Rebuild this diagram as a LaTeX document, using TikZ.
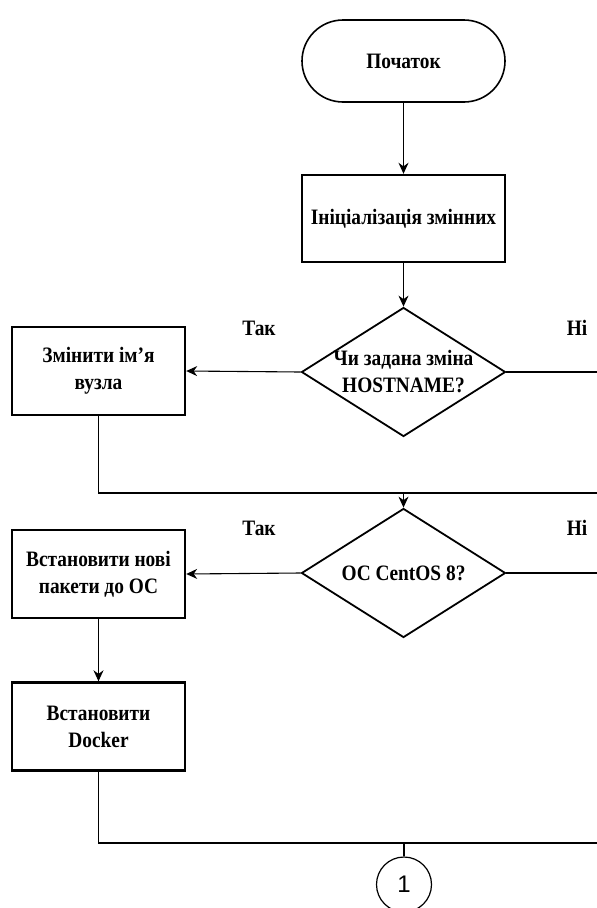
\documentclass[tikz,border=0pt]{standalone}
\usepackage{fontspec}
\setmainfont{Liberation Serif}[FakeStretch=0.88]
\newfontfamily\numfont{Liberation Sans}
\usetikzlibrary{arrows.meta}
\usetikzlibrary{shapes,positioning}

\tikzset{
  txt/.style={font=\fontsize{22}{27}\selectfont\bfseries},
  terminal/.style={draw, line width=1.6pt, rounded corners=41pt, minimum width=203pt,
    minimum height=82pt, inner sep=0pt, txt},
  process/.style={draw, line width=2.4pt, minimum width=173pt, minimum height=88pt,
    inner sep=0pt, align=center, txt},
  decision/.style={draw, diamond, line width=1.8pt, minimum width=204pt,
    minimum height=129pt, inner sep=0pt},
  connector/.style={draw, circle, line width=1.2pt, minimum size=55pt, inner sep=0pt,
    font=\numfont\fontsize{24}{28}\selectfont},
  flow/.style={line width=1.1pt},
  arr/.style={flow, -{Stealth[length=11pt,width=10pt]}},
  answer/.style={txt}
}

\begin{document}
\begin{tikzpicture}[x=1pt,y=-1pt]
        \clip (0,0) rectangle (597,908);
        % main column
        \node[terminal] (start) at (403.5,61) {Початок};
        \node[process, minimum width=203pt, minimum height=87pt] (init) at (403.5,218.5) {Ініціалізація змінних};
        \node[decision, label={[align=center,txt]center:{Чи задана зміна\\HOSTNAME?}}] (host) at (403.5,372) {};
        \node[decision, label={[txt]center:{ОС CentOS 8?}}] (os) at (403.5,573) {};
        \node[connector] (link) at (404,884.5) {1};

        % left column
        \node[process] (rename) at (98.5,371) {Змінити ім'я\\вузла};
        \node[process] (pkgs) at (98.5,574) {Встановити нові\\пакети до ОС};
        \node[process] (docker) at (98.5,726.5) {Встановити\\Docker};

        % branch labels
        \node[answer] (yes1) at (259,328) {Так};
        \node[answer] (no1) at (577,328) {Ні};
        \node[answer] (yes2) at (259,528) {Так};
        \node[answer] (no2) at (577,528) {Ні};

        % points on the edge and joins
        \coordinate (edge1) at (600,372);
        \coordinate (edge2) at (600,493);
        \coordinate (edge3) at (600,573);
        \coordinate (edge4) at (600,843);
        \coordinate (join1) at (403.5,493);
        \coordinate (join2) at (404,843);

        \draw[arr] (start) -- (init);
        \draw[arr] (init) -- (host);
        \draw[arr] (host.west) -- (rename.east);
        \draw[flow] (host.east) -- (edge1);
        \draw[flow] (rename.south) |- (join1) -- (edge2);
        \draw[arr] (join1) -- (os.north);
        \draw[arr] (os.west) -- (pkgs.east);
        \draw[flow] (os.east) -- (edge3);
        \draw[arr] (pkgs) -- (docker);
        \draw[flow] (docker.south) |- (join2) -- (edge4);
        \draw[flow] (join2) -- (link);
    \end{tikzpicture}
\end{document}
